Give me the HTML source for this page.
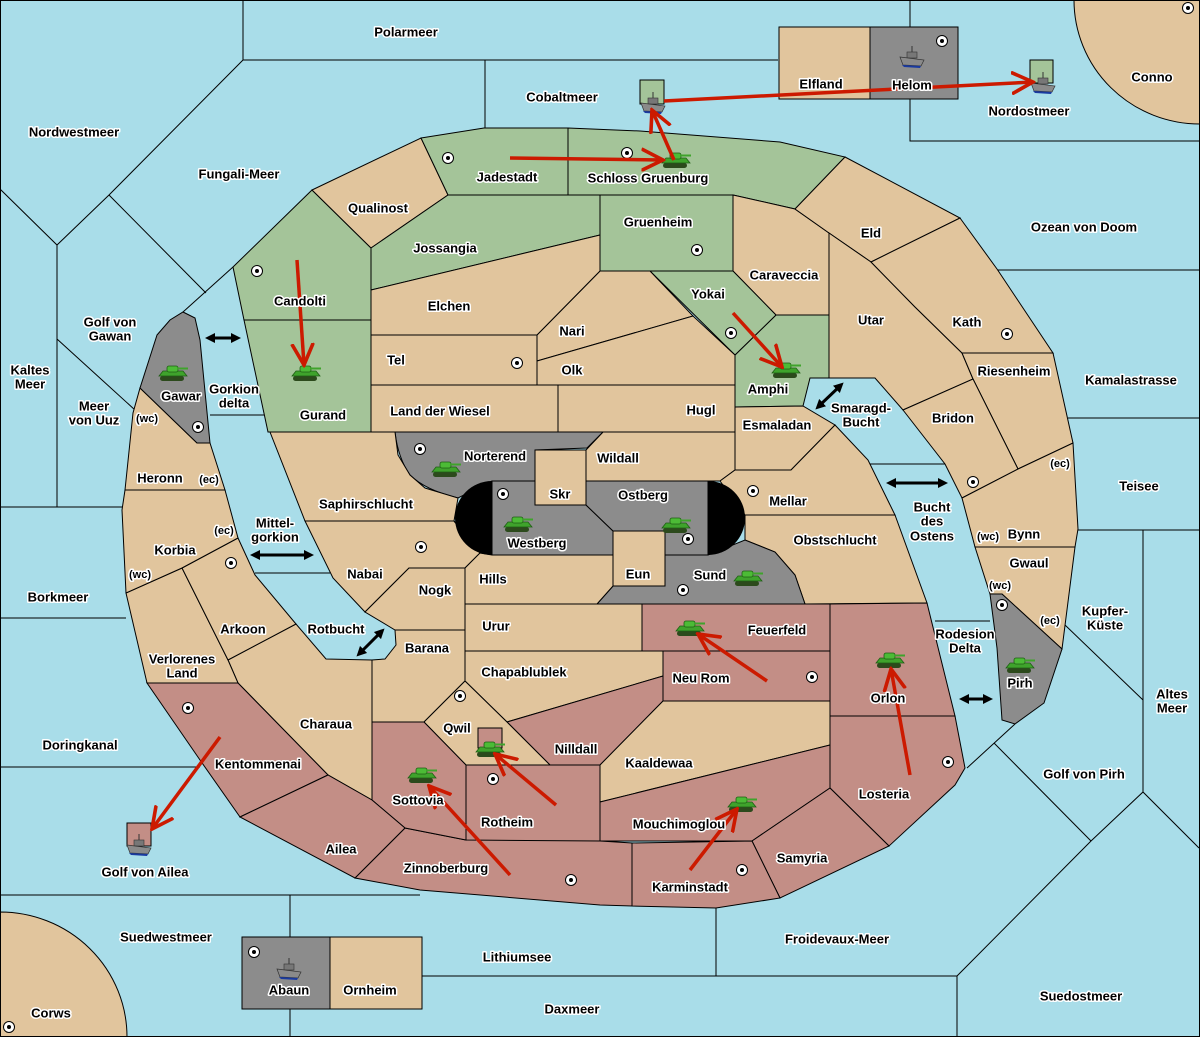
<!DOCTYPE html>
<html><head><meta charset="utf-8"><style>
html,body{margin:0;padding:0;background:#a9dde9;width:1200px;height:1037px;overflow:hidden}
svg{display:block}
text{font-family:"Liberation Sans",sans-serif;font-weight:bold;font-size:13px;fill:#000;stroke:#fff;stroke-width:3px;paint-order:stroke;stroke-linejoin:round;text-anchor:middle;dominant-baseline:central}
.t{fill:#e1c59d;stroke:#000;stroke-width:1}
.g{fill:#a4c499;stroke:#000;stroke-width:1}
.r{fill:#c38e86;stroke:#000;stroke-width:1}
.k{fill:#8c8c8c;stroke:#000;stroke-width:1}
.l{fill:none;stroke:#000;stroke-width:1}
.ra{fill:none;stroke:#cc1a00;stroke-width:3.5;marker-end:url(#rh)}
.ba{stroke:#000;stroke-width:3;marker-start:url(#bh);marker-end:url(#bh)}
</style></head><body>
<svg width="1200" height="1037" viewBox="0 0 1200 1037" xmlns="http://www.w3.org/2000/svg">
<defs>
<marker id="rh" viewBox="0 0 20 20" refX="18" refY="10" markerWidth="24" markerHeight="24" markerUnits="userSpaceOnUse" orient="auto"><path d="M0,1 L18,10 L0,19" fill="none" stroke="#cc1a00" stroke-width="3"/></marker>
<marker id="bh" viewBox="0 0 10 10" refX="5" refY="5" markerWidth="10" markerHeight="10" markerUnits="userSpaceOnUse" orient="auto-start-reverse"><path d="M0,0 L10,5 L0,10 Z" fill="#000"/></marker>
<symbol id="tk" viewBox="0 0 30 18"><rect x="2" y="12" width="24" height="5" rx="2.5" fill="#2c4a1c"/><path d="M1,12 L5,7 L25,7 L29,12 Z" fill="#3fa32c" stroke="#1f5e14" stroke-width="0.8"/><rect x="9" y="2" width="11" height="6" rx="2" fill="#4cbb36" stroke="#1f5e14" stroke-width="0.8"/><rect x="19" y="3.5" width="11" height="2" fill="#3fa32c"/></symbol>
<symbol id="sh" viewBox="0 0 26 22"><line x1="13" y1="0" x2="13" y2="9" stroke="#333"/><rect x="8" y="6" width="10" height="6" fill="#777" stroke="#333" stroke-width="0.6"/><path d="M1,11 L25,14 L22,20 L4,19 Z" fill="#8a8a8a" stroke="#333" stroke-width="0.7"/><path d="M3,19 L22,20 L21,22 L5,21 Z" fill="#1a3aa0"/></symbol>
<g id="dot"><circle r="5.5" fill="#fff" stroke="#000"/><circle r="2" fill="#000"/></g>
</defs>
<rect width="1200" height="1037" fill="#a9dde9"/>
<g class="l">
<polyline points="243,0 243,60 778,60"/>
<polyline points="485,60 485,130"/>
<polyline points="910,0 910,27"/>
<polyline points="910,99 910,141 1200,141"/>
<polyline points="0,189 57,245 109,195 243,60"/>
<polyline points="109,195 206,293"/>
<polyline points="183,312 233,267"/>
<polyline points="57,245 57,507"/>
<polyline points="57,339 135,410"/>
<polyline points="210,415 266,415"/>
<polyline points="0,507 122,507"/>
<polyline points="0,618 126,618"/>
<polyline points="0,767 200,767"/>
<polyline points="0,895 420,895"/>
<polyline points="290,895 290,1036"/>
<polyline points="255,573 330,573"/>
<polyline points="422,976 957,976"/>
<polyline points="716,908 716,976"/>
<polyline points="957,976 957,1036"/>
<polyline points="957,976 1091,841 1143,792 1199,848"/>
<polyline points="994,743 1091,841"/>
<polyline points="1143,530 1143,792"/>
<polyline points="1065,625 1143,700"/>
<polyline points="1078,530 1199,530"/>
<polyline points="1068,418 1199,418"/>
<polyline points="997,270 1199,270"/>
<polyline points="935,621 990,621"/>
<polyline points="868,464 945,464"/>
<polyline points="1015,724 967,768"/>
</g>
<path class="t" d="M1074,0 A126,124 0 0 0 1200,124 L1200,0 Z"/>
<path class="t" d="M0,912 A127,125 0 0 1 127,1037 L0,1037 Z"/>
<rect x="779" y="27" width="91" height="72" class="t"/>
<rect x="870" y="27" width="88" height="72" class="k"/>
<rect x="242" y="937" width="88" height="72" class="k"/>
<rect x="330" y="937" width="92" height="72" class="t"/>
<rect x="640" y="80" width="24" height="24" class="g"/>
<rect x="1030" y="60" width="23" height="23" class="g"/>
<rect x="127" y="823" width="24" height="23" class="r"/>
<polygon class="g" points="233,267 312,190 371,248 371,320 244,320"/>
<polygon class="g" points="244,320 371,320 371,432 268,432"/>
<polygon class="t" points="312,190 421,138 448,195 371,248"/>
<polygon class="g" points="421,138 484,128 568,128 568,195 448,195"/>
<polygon class="g" points="568,128 640,131 780,142 845,157 795,209 733,195 568,195"/>
<polygon class="g" points="371,248 448,195 600,195 600,235 371,290"/>
<polygon class="g" points="600,195 733,195 733,271 600,271"/>
<polygon class="t" points="733,195 795,209 829,233 829,315 776,315 733,271"/>
<polygon class="t" points="845,157 960,218 871,262 829,233 795,209"/>
<polygon class="t" points="829,233 871,262 915,307 962,353 973,379 903,410 875,378 829,378"/>
<polygon class="t" points="960,218 997,269 1053,353 962,353 915,307 871,262"/>
<polygon class="t" points="962,353 1053,353 1073,443 1018,469 973,379"/>
<polygon class="t" points="973,379 1018,469 962,498 945,464 903,410"/>
<polygon class="t" points="962,498 1018,469 1073,443 1078,529 1075,547 975,547"/>
<polygon class="t" points="975,547 1075,547 1062,649 1002,594 990,594"/>
<polygon class="k" points="990,594 1002,594 1062,649 1044,703 1015,724 1002,720 997,648"/>
<polygon class="g" points="735,355 776,315 829,315 829,378 810,378 803,406 735,407"/>
<polygon class="g" points="650,271 733,271 776,315 735,355"/>
<polygon class="t" points="537,335 600,271 650,271 693,316 537,361"/>
<polygon class="t" points="537,361 693,316 735,355 735,385 537,385"/>
<polygon class="t" points="371,290 600,235 600,271 537,335 371,335"/>
<polygon class="t" points="371,335 537,335 537,385 371,385"/>
<polygon class="t" points="371,385 558,385 558,432 371,432"/>
<polygon class="t" points="558,385 735,385 735,432 558,432"/>
<polygon class="t" points="735,407 803,406 835,425 791,470 735,470"/>
<polygon class="t" points="603,432 735,432 735,470 720,481 586,481 586,450"/>
<polygon class="t" points="720,481 735,470 791,470 835,425 868,460 895,515 745,515"/>
<polygon class="t" points="745,515 895,515 927,603 805,604 795,575 775,552 745,540"/>
<polygon class="k" points="665,555 708,555 745,540 775,552 795,575 805,604 597,604 613,586 665,586"/>
<path class="k" d="M395,432 L603,432 L587,448 L535,450 L535,481 L492,481 L458,498 Q425,490 410,475 Q398,458 395,432 Z"/>
<polygon class="t" points="270,432 395,432 398,455 410,475 425,488 458,498 454,521 305,521"/>
<polygon class="t" points="305,521 454,521 480,553 465,568 409,568 365,612 333,578"/>
<polygon class="t" points="454,521 480,553 492,555 613,555 613,586 597,604 465,604 465,568 480,553"/>
<polygon class="t" points="409,568 465,568 465,630 395,630 365,612"/>
<polygon class="t" points="395,630 465,630 465,681 424,722 372,722 372,660 385,659 396,645"/>
<polygon class="t" points="465,604 642,604 642,651 465,651"/>
<polygon class="r" points="642,604 830,604 830,651 642,651"/>
<polygon class="t" points="465,651 663,651 663,676 507,722 465,681"/>
<polygon class="r" points="663,651 830,651 830,701 663,701"/>
<polygon class="r" points="830,604 927,603 955,716 830,716"/>
<polygon class="r" points="507,722 663,676 663,701 600,765 550,765"/>
<polygon class="t" points="424,722 465,681 507,722 550,765 466,765"/>
<polygon class="t" points="663,701 830,701 830,745 600,802 600,765"/>
<polygon class="r" points="600,802 830,745 830,788 752,841 600,841"/>
<polygon class="r" points="830,716 955,716 965,768 955,785 889,846 830,788"/>
<polygon class="r" points="830,788 889,846 780,898 752,841"/>
<polygon class="r" points="632,843 752,841 780,898 716,908 632,906"/>
<polygon class="r" points="466,765 600,765 600,841 466,841"/>
<polygon class="r" points="405,828 466,840 600,841 632,843 632,906 600,905 420,890 355,878"/>
<polygon class="r" points="372,722 424,722 466,765 466,840 405,828 372,800"/>
<polygon class="t" points="228,660 296,624 326,659 372,660 372,800 328,775 238,683"/>
<polygon class="r" points="147,683 238,683 328,775 240,817 200,760"/>
<polygon class="r" points="240,817 328,775 372,800 405,828 355,878"/>
<polygon class="t" points="126,593 182,568 228,660 238,683 147,683"/>
<polygon class="t" points="182,568 238,538 255,575 296,624 228,660"/>
<polygon class="t" points="125,490 225,490 238,538 182,568 126,593 122,510"/>
<polygon class="t" points="140,388 197,443 210,443 225,490 125,490 133,413"/>
<polygon class="k" points="157,335 170,320 183,312 195,318 200,340 210,443 197,443 140,388"/>
<rect x="535" y="450" width="51" height="55" class="t"/>
<polygon class="k" points="492,481 535,481 535,505 586,505 613,531 613,555 492,555"/>
<polygon class="k" points="586,481 708,481 708,555 665,555 665,531 613,531 586,505"/>
<rect x="613" y="531" width="52" height="55" class="t"/>
<path d="M492,481 A37,37 0 0 0 492,555 Z" fill="#000"/>
<path d="M708,481 A37,37 0 0 1 708,555 Z" fill="#000"/>
<rect x="478" y="728" width="24" height="20" class="r"/>
<g>
<use href="#dot" x="448" y="158"/><use href="#dot" x="627" y="153"/><use href="#dot" x="257" y="271"/><use href="#dot" x="697" y="250"/>
<use href="#dot" x="517" y="363"/><use href="#dot" x="731" y="333"/><use href="#dot" x="1007" y="334"/><use href="#dot" x="198" y="427"/>
<use href="#dot" x="420" y="449"/><use href="#dot" x="503" y="494"/><use href="#dot" x="753" y="491"/><use href="#dot" x="973" y="482"/>
<use href="#dot" x="421" y="547"/><use href="#dot" x="231" y="563"/><use href="#dot" x="1002" y="605"/><use href="#dot" x="812" y="677"/>
<use href="#dot" x="948" y="762"/><use href="#dot" x="460" y="696"/><use href="#dot" x="493" y="779"/><use href="#dot" x="571" y="880"/>
<use href="#dot" x="742" y="870"/><use href="#dot" x="188" y="708"/><use href="#dot" x="254" y="952"/><use href="#dot" x="9" y="1027"/>
<use href="#dot" x="1188" y="8"/><use href="#dot" x="942" y="41"/><use href="#dot" x="688" y="539"/><use href="#dot" x="683" y="590"/>
</g>
<g>
<use href="#tk" x="158" y="364" width="30" height="18"/><use href="#tk" x="291" y="364" width="30" height="18"/>
<use href="#tk" x="661" y="151" width="30" height="18"/><use href="#tk" x="771" y="361" width="30" height="18"/>
<use href="#tk" x="431" y="460" width="30" height="18"/><use href="#tk" x="503" y="515" width="30" height="18"/>
<use href="#tk" x="661" y="516" width="30" height="18"/><use href="#tk" x="733" y="569" width="30" height="18"/>
<use href="#tk" x="675" y="619" width="30" height="18"/><use href="#tk" x="875" y="651" width="30" height="18"/>
<use href="#tk" x="1005" y="656" width="30" height="18"/><use href="#tk" x="727" y="795" width="30" height="18"/>
<use href="#tk" x="407" y="766" width="30" height="18"/><use href="#tk" x="475" y="740" width="30" height="18"/>
</g>
<g>
<use href="#sh" x="899" y="46" width="26" height="22"/><use href="#sh" x="640" y="92" width="26" height="22"/>
<use href="#sh" x="1030" y="72" width="26" height="22"/><use href="#sh" x="126" y="834" width="26" height="22"/>
<use href="#sh" x="276" y="958" width="26" height="22"/>
</g>
<g>
<line class="ra" x1="297" y1="260" x2="304" y2="365"/>
<line class="ra" x1="510" y1="158" x2="663" y2="160"/>
<line class="ra" x1="674" y1="160" x2="652" y2="110"/>
<line class="ra" x1="664" y1="101" x2="1033" y2="82"/>
<line class="ra" x1="733" y1="313" x2="782" y2="367"/>
<line class="ra" x1="220" y1="737" x2="152" y2="829"/>
<line class="ra" x1="510" y1="875" x2="429" y2="786"/>
<line class="ra" x1="556" y1="805" x2="495" y2="754"/>
<line class="ra" x1="767" y1="681" x2="698" y2="634"/>
<line class="ra" x1="910" y1="775" x2="891" y2="669"/>
<line class="ra" x1="690" y1="870" x2="737" y2="809"/>
<line class="ba" x1="210" y1="338" x2="236" y2="338"/>
<line class="ba" x1="255" y1="555" x2="309" y2="555"/>
<line class="ba" x1="360" y1="653" x2="381" y2="632"/>
<line class="ba" x1="819" y1="406" x2="840" y2="386"/>
<line class="ba" x1="891" y1="483" x2="943" y2="483"/>
<line class="ba" x1="964" y1="699" x2="988" y2="699"/>
</g>
<g>
<text x="406" y="32">Polarmeer</text><text x="562" y="97">Cobaltmeer</text><text x="821" y="84">Elfland</text><text x="912" y="85">Helom</text>
<text x="1029" y="111">Nordostmeer</text><text x="1152" y="77">Conno</text><text x="74" y="132">Nordwestmeer</text><text x="239" y="174">Fungali-Meer</text>
<text x="507" y="177">Jadestadt</text><text x="648" y="178">Schloss Gruenburg</text><text x="378" y="208">Qualinost</text><text x="658" y="222">Gruenheim</text>
<text x="871" y="233">Eld</text><text x="1084" y="227">Ozean von Doom</text><text x="445" y="248">Jossangia</text><text x="784" y="275">Caraveccia</text>
<text x="708" y="294">Yokai</text><text x="300" y="301">Candolti</text><text x="449" y="306">Elchen</text><text x="871" y="320">Utar</text>
<text x="967" y="322">Kath</text><text x="572" y="331">Nari</text><text x="110" y="322">Golf von</text><text x="110" y="336">Gawan</text>
<text x="396" y="360">Tel</text><text x="572" y="370">Olk</text><text x="1014" y="371">Riesenheim</text><text x="30" y="370">Kaltes</text><text x="30" y="384">Meer</text>
<text x="1131" y="380">Kamalastrasse</text><text x="768" y="389">Amphi</text><text x="181" y="396">Gawar</text><text x="234" y="389">Gorkion</text><text x="234" y="403">delta</text>
<text x="94" y="406">Meer</text><text x="94" y="420">von Uuz</text><text x="147" y="419" style="font-size:11px">(wc)</text>
<text x="861" y="408">Smaragd-</text><text x="861" y="422">Bucht</text><text x="323" y="415">Gurand</text><text x="440" y="411">Land der Wiesel</text>
<text x="701" y="410">Hugl</text><text x="953" y="418">Bridon</text><text x="777" y="425">Esmaladan</text><text x="495" y="456">Norterend</text>
<text x="618" y="458">Wildall</text><text x="160" y="478">Heronn</text><text x="209" y="480" style="font-size:11px">(ec)</text><text x="1060" y="464" style="font-size:11px">(ec)</text>
<text x="1139" y="486">Teisee</text><text x="560" y="494">Skr</text><text x="643" y="495">Ostberg</text><text x="788" y="501">Mellar</text>
<text x="366" y="504">Saphirschlucht</text><text x="932" y="507">Bucht</text><text x="932" y="521">des</text><text x="932" y="536">Ostens</text>
<text x="275" y="523">Mittel-</text><text x="275" y="537">gorkion</text><text x="224" y="531" style="font-size:11px">(ec)</text><text x="988" y="537" style="font-size:11px">(wc)</text>
<text x="1024" y="534">Bynn</text><text x="537" y="543">Westberg</text><text x="835" y="540">Obstschlucht</text><text x="175" y="550">Korbia</text>
<text x="1029" y="563">Gwaul</text><text x="140" y="575" style="font-size:11px">(wc)</text><text x="365" y="574">Nabai</text><text x="638" y="574">Eun</text>
<text x="710" y="575">Sund</text><text x="493" y="579">Hills</text><text x="1000" y="586" style="font-size:11px">(wc)</text><text x="435" y="590">Nogk</text>
<text x="58" y="597">Borkmeer</text><text x="1105" y="611">Kupfer-</text><text x="1105" y="625">Küste</text><text x="1050" y="621" style="font-size:11px">(ec)</text>
<text x="496" y="626">Urur</text><text x="243" y="629">Arkoon</text><text x="777" y="630">Feuerfeld</text><text x="336" y="629">Rotbucht</text>
<text x="965" y="634">Rodesion</text><text x="965" y="648">Delta</text><text x="427" y="648">Barana</text><text x="182" y="659">Verlorenes</text><text x="182" y="673">Land</text>
<text x="524" y="672">Chapablublek</text><text x="701" y="678">Neu Rom</text><text x="1020" y="683">Pirh</text><text x="888" y="698">Orlon</text>
<text x="1172" y="694">Altes</text><text x="1172" y="708">Meer</text><text x="326" y="724">Charaua</text><text x="457" y="728">Qwil</text>
<text x="80" y="745">Doringkanal</text><text x="576" y="749">Nilldall</text><text x="659" y="763">Kaaldewaa</text><text x="258" y="764">Kentommenai</text>
<text x="1084" y="774">Golf von Pirh</text><text x="884" y="794">Losteria</text><text x="418" y="800">Sottovia</text><text x="507" y="822">Rotheim</text>
<text x="679" y="824">Mouchimoglou</text><text x="341" y="849">Ailea</text><text x="802" y="858">Samyria</text><text x="446" y="868">Zinnoberburg</text>
<text x="145" y="872">Golf von Ailea</text><text x="690" y="887">Karminstadt</text><text x="166" y="937">Suedwestmeer</text><text x="837" y="939">Froidevaux-Meer</text>
<text x="517" y="957">Lithiumsee</text><text x="289" y="990">Abaun</text><text x="370" y="990">Ornheim</text><text x="1081" y="996">Suedostmeer</text>
<text x="572" y="1009">Daxmeer</text><text x="51" y="1013">Corws</text>
</g>
<rect x="0.5" y="0.5" width="1199" height="1036" fill="none" stroke="#000"/>
</svg>
</body></html>
